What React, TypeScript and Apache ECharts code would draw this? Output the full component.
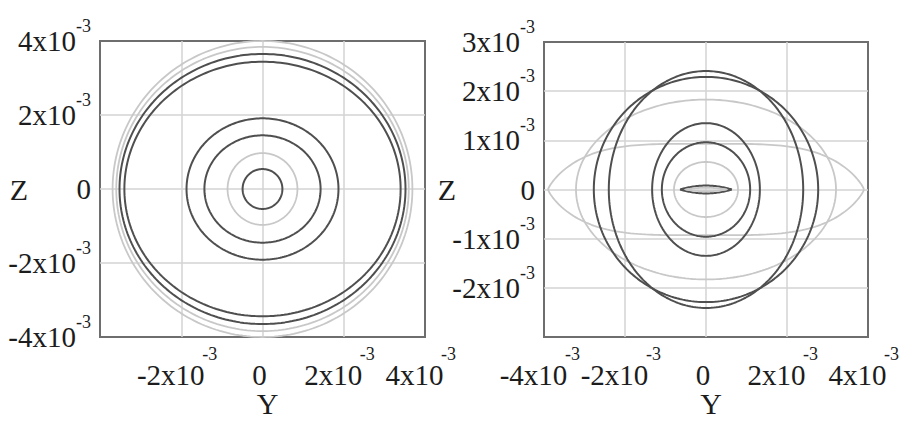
import React, { useEffect, useRef } from 'react';
import * as echarts from 'echarts';

// Units on both axes: 10^-3
const EXPONENT = '-3';

// Tick values and tick label mantissas ('' = no label shown)
const LEFT_X_TICKS = [-4, -2, 0, 2, 4];
const LEFT_X_TEXT = ['', '-2', '0', '2', '4'];
const LEFT_Y_TICKS = [-4, -2, 0, 2, 4];
const LEFT_Y_TEXT = ['-4', '-2', '0', '2', '4'];
const RIGHT_X_TICKS = [-4, -2, 0, 2, 4];
const RIGHT_X_TEXT = ['-4', '-2', '0', '2', '4'];
const RIGHT_Y_TICKS = [-3, -2, -1, 0, 1, 2, 3];
const RIGHT_Y_TEXT = ['', '-2', '-1', '0', '1', '2', '3'];

// Left panel: closed curves (half-widths along Y and Z, in 10^-3)
const LEFT_RY_AXIS = [3.69, 3.6, 3.52, 3.4, 1.87, 1.43, 0.86, 0.49];
const LEFT_RZ_AXIS = [4.0, 3.84, 3.65, 3.44, 1.91, 1.45, 0.97, 0.54];
const LEFT_TONE = ['light', 'light', 'dark', 'dark', 'dark', 'dark', 'light', 'dark'];
const LEFT_K = [2, 2, 2, 2, 2, 2, 2, 2];
const LEFT_M = [0.5, 0.5, 0.5, 0.5, 0.5, 0.5, 0.5, 0.5];

// Right panel: closed curves (half-widths along Y and Z, in 10^-3)
const RIGHT_RY_AXIS = [3.9, 3.21, 2.77, 2.4, 1.33, 1.09, 0.79, 0.64, 0.52];
const RIGHT_RZ_AXIS = [0.93, 1.83, 2.29, 2.41, 1.35, 0.96, 0.56, 0.08, 0.035];
const RIGHT_TONE = ['light', 'light', 'dark', 'dark', 'dark', 'dark', 'light', 'dark', 'light'];
const RIGHT_K = [4, 2, 2, 2, 2, 2, 2, 2, 2];
const RIGHT_M = [0.8, 0.5, 0.5, 0.5, 0.5, 0.5, 0.5, 1, 1];

const SERIF = 'Liberation Serif';
const TEXT = '#1c1c1c';
const DARK = '#4f4f4f';
const LIGHT = '#c8c8c8';
const GRID_LINE = '#d3d3d3';
const BOX = '#6e6e6e';

// closed curve |z/b| = (1 - |y/a|^k)^m ; k = 2, m = 0.5 is an ellipse
function closedCurve(a: number, b: number, k: number, m: number): number[][] {
  const pts: number[][] = [];
  const n = 240;
  for (let i = 0; i <= n; i++) {
    const t = (i / n) * Math.PI * 2;
    const c = Math.cos(t);
    const s = Math.sin(t);
    const h = Math.pow(Math.max(0, 1 - Math.pow(Math.abs(c), k)), m);
    pts.push([a * c, (s >= 0 ? 1 : -1) * b * h]);
  }
  return pts;
}

function richX() {
  const base = { fontFamily: SERIF, fontSize: 29, color: TEXT, lineHeight: 30, verticalAlign: 'bottom' };
  return {
    m: { ...base, width: 53 },
    n: { ...base, width: 63 },
    z: { ...base, lineHeight: 44 },
    s: { fontFamily: SERIF, fontSize: 18, color: TEXT, padding: [0, 0, 26, 0], verticalAlign: 'top' },
  };
}

function richY() {
  const base = { fontFamily: SERIF, fontSize: 29, color: TEXT, lineHeight: 48, verticalAlign: 'middle' };
  return {
    m: { ...base, width: 53 },
    n: { ...base, width: 63 },
    z: { ...base },
    s: { fontFamily: SERIF, fontSize: 18, color: TEXT, lineHeight: 18, verticalAlign: 'top' },
  };
}

function makeFormatter(values: number[], texts: string[]) {
  return (v: number) => {
    const i = values.findIndex((x) => Math.abs(x - v) < 1e-9);
    if (i < 0) return '';
    const t = texts[i];
    if (t === '') return '';
    if (t === '0') return '{z|0}';
    return `{${t.startsWith('-') ? 'n' : 'm'}|${t}x10}{s|${EXPONENT}}`;
  };
}

const splitLine = {
  show: true,
  showMinLine: false,
  showMaxLine: false,
  lineStyle: { color: GRID_LINE, width: 1.5 },
};

function xAxis(gridIndex: number, ticks: number[], texts: string[]) {
  return {
    type: 'value',
    gridIndex,
    min: -4,
    max: 4,
    interval: 2,
    name: 'Y',
    nameLocation: 'middle',
    nameGap: 54,
    nameMoveOverlap: false,
    nameTextStyle: { fontFamily: SERIF, fontSize: 30, lineHeight: 24, color: TEXT, padding: [0, 0, 0, 10] },
    axisLine: { show: false },
    axisTick: { show: false },
    splitLine,
    axisLabel: {
      show: true,
      margin: 8,
      showMinLabel: true,
      showMaxLabel: true,
      padding: [0, 6, 0, 0],
      formatter: makeFormatter(ticks, texts),
      rich: richX(),
    },
  };
}

function yAxis(gridIndex: number, min: number, max: number, interval: number, ticks: number[], texts: string[], gap: number) {
  return {
    type: 'value',
    gridIndex,
    min,
    max,
    interval,
    name: 'Z',
    nameLocation: 'middle',
    nameRotate: 0,
    nameGap: gap,
    nameMoveOverlap: false,
    nameTextStyle: { fontFamily: SERIF, fontSize: 30, color: TEXT },
    axisLine: { show: false },
    axisTick: { show: false },
    splitLine,
    axisLabel: {
      show: true,
      margin: 9,
      showMinLabel: true,
      showMaxLabel: true,
      formatter: makeFormatter(ticks, texts),
      rich: richY(),
    },
  };
}

function curves(idx: number, ra: number[], rb: number[], ks: number[], ms: number[], tones: string[]) {
  return ra.map((a, i) => ({
    type: 'line',
    xAxisIndex: idx,
    yAxisIndex: idx,
    data: closedCurve(a, rb[i], ks[i], ms[i]),
    showSymbol: false,
    symbol: 'none',
    smooth: false,
    silent: true,
    lineStyle: { color: tones[i] === 'dark' ? DARK : LIGHT, width: tones[i] === 'dark' ? 2 : 1.8 },
  }));
}

export default function App() {
  const ref = useRef<HTMLDivElement>(null);
  useEffect(() => {
    if (!ref.current) return;
    const chart = echarts.init(ref.current, null, { renderer: 'svg' });
    chart.setOption({
      animation: false,
      backgroundColor: '#ffffff',
      grid: [
        { left: 100, top: 41, width: 325, height: 298, show: true, borderColor: BOX, borderWidth: 2, backgroundColor: 'transparent' },
        { left: 544, top: 42, width: 324, height: 299, show: true, borderColor: BOX, borderWidth: 2, backgroundColor: 'transparent' },
      ],
      xAxis: [xAxis(0, LEFT_X_TICKS, LEFT_X_TEXT), xAxis(1, RIGHT_X_TICKS, RIGHT_X_TEXT)],
      yAxis: [
        yAxis(0, -4, 4, 2, LEFT_Y_TICKS, LEFT_Y_TEXT, 72),
        yAxis(1, -3, 3, 1, RIGHT_Y_TICKS, RIGHT_Y_TEXT, 88),
      ],
      series: [
        ...curves(0, LEFT_RY_AXIS, LEFT_RZ_AXIS, LEFT_K, LEFT_M, LEFT_TONE),
        ...curves(1, RIGHT_RY_AXIS, RIGHT_RZ_AXIS, RIGHT_K, RIGHT_M, RIGHT_TONE),
      ],
    });
    return () => chart.dispose();
  }, []);
  return (
    <div
      ref={ref}
      style={{ position: 'fixed', left: 0, top: 0, width: 912, height: 423, background: '#fff' }}
    />
  );
}
